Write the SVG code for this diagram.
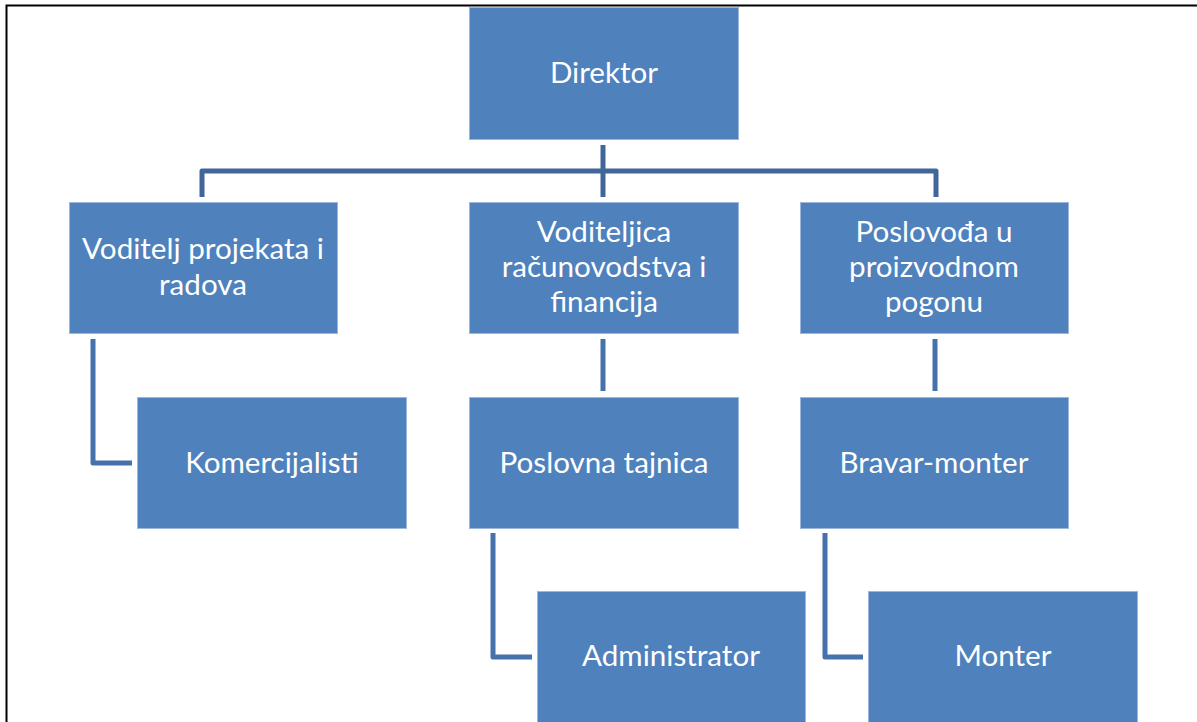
<svg xmlns="http://www.w3.org/2000/svg" width="1197" height="722" viewBox="0 0 1197 722">
<style>
.box{fill:#4F81BD;stroke:#9DB6DC;stroke-width:1}
.t{fill:#FFFFFF;font-family:Lato,"Open Sans","Liberation Sans",sans-serif;font-size:29.6px;text-anchor:middle}
.c{fill:none;stroke:#4672AB;stroke-width:5;stroke-linejoin:round}
.c0{fill:none;stroke:#41679A;stroke-width:5;stroke-linejoin:round}
</style>
<rect x="0" y="0" width="1197" height="722" fill="#FFFFFF"/>
<path d="M6.5,722 V5.5 H1197" fill="none" stroke="#000000" stroke-width="2"/>
<g id="connectors">
<path class="c0" d="M202,197 V171 H936 V197"/>
<path class="c0" d="M603,145 V197"/>
<path class="c" d="M93,339 V463 H132"/>
<path class="c" d="M603,339 V391"/>
<path class="c" d="M935,339 V391"/>
<path class="c" d="M493,533 V657 H532"/>
<path class="c" d="M825,533 V657 H863"/>
</g>
<g id="direktor">
<rect class="box" x="469.5" y="7.5" width="269" height="132"/>
<text class="t" x="604" y="83">Direktor</text>
</g>
<g id="voditelj-projekata">
<rect class="box" x="69.5" y="202.5" width="268" height="131"/>
<text class="t" x="203" y="259">Voditelj projekata i</text>
<text class="t" x="203" y="295">radova</text>
</g>
<g id="voditeljica-racunovodstva">
<rect class="box" x="469.5" y="202.5" width="269" height="131"/>
<text class="t" x="604" y="242">Voditeljica</text>
<text class="t" x="604" y="277">računovodstva i</text>
<text class="t" x="604" y="312">financija</text>
</g>
<g id="poslovodja">
<rect class="box" x="800.5" y="202.5" width="268" height="131"/>
<text class="t" x="934" y="242">Poslovođa u</text>
<text class="t" x="934" y="277">proizvodnom</text>
<text class="t" x="934" y="312">pogonu</text>
</g>
<g id="komercijalisti">
<rect class="box" x="137.5" y="397.5" width="269" height="131"/>
<text class="t" x="272" y="473">Komercijalisti</text>
</g>
<g id="poslovna-tajnica">
<rect class="box" x="469.5" y="397.5" width="269" height="131"/>
<text class="t" x="604" y="473">Poslovna tajnica</text>
</g>
<g id="bravar-monter">
<rect class="box" x="800.5" y="397.5" width="268" height="131"/>
<text class="t" x="934" y="473">Bravar-monter</text>
</g>
<g id="administrator">
<rect class="box" x="537.5" y="591.5" width="268" height="140"/>
<text class="t" x="671" y="666">Administrator</text>
</g>
<g id="monter">
<rect class="box" x="868.5" y="591.5" width="269" height="140"/>
<text class="t" x="1003" y="666">Monter</text>
</g>
</svg>
